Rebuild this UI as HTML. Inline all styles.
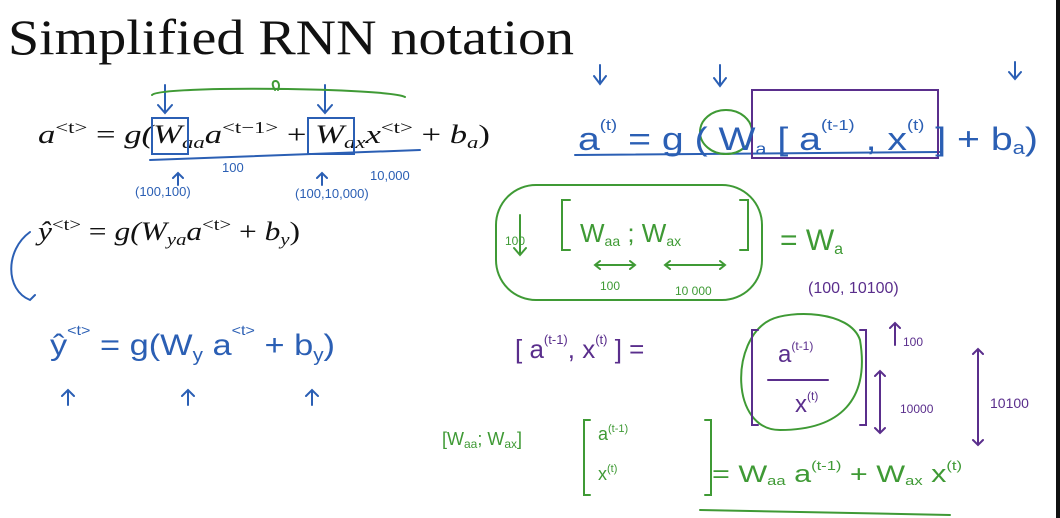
<!DOCTYPE html>
<html><head><meta charset="utf-8"><style>
html,body{margin:0;padding:0;background:#fff;}
svg{display:block}
.t{font-family:"Liberation Serif",serif;}
.h{font-family:"Liberation Sans",sans-serif;}
</style></head><body>
<svg width="1060" height="518" viewBox="0 0 1060 518" xmlns="http://www.w3.org/2000/svg">
<rect x="1056" y="0" width="4" height="518" fill="#111"/>
<text x="8" y="54" class="t" font-size="50" fill="#111" textLength="566" lengthAdjust="spacingAndGlyphs">Simplified RNN notation</text>
<text x="38" y="143" class="t" font-size="26" fill="#111" font-style="italic" textLength="452" lengthAdjust="spacingAndGlyphs">a<tspan font-style="normal" font-size="17" dy="-10">&lt;t&gt;</tspan><tspan dy="10" font-style="normal"> = </tspan>g(W<tspan font-size="17" dy="5">aa</tspan><tspan dy="-5">a</tspan><tspan font-style="normal" font-size="17" dy="-10">&lt;t−1&gt;</tspan><tspan dy="10" font-style="normal"> + </tspan>W<tspan font-size="17" dy="5">ax</tspan><tspan dy="-5">x</tspan><tspan font-style="normal" font-size="17" dy="-10">&lt;t&gt;</tspan><tspan dy="10" font-style="normal"> + </tspan>b<tspan font-size="17" dy="5">a</tspan><tspan dy="-5" font-style="normal">)</tspan></text>
<text x="38" y="240" class="t" font-size="26" fill="#111" font-style="italic" textLength="262" lengthAdjust="spacingAndGlyphs">ŷ<tspan font-style="normal" font-size="17" dy="-10">&lt;t&gt;</tspan><tspan dy="10" font-style="normal"> = </tspan>g(W<tspan font-size="17" dy="5">ya</tspan><tspan dy="-5">a</tspan><tspan font-style="normal" font-size="17" dy="-10">&lt;t&gt;</tspan><tspan dy="10" font-style="normal"> + </tspan>b<tspan font-size="17" dy="5">y</tspan><tspan dy="-5" font-style="normal">)</tspan></text>
<g fill="none" stroke-width="2" stroke-linecap="round">
<g stroke="#2b5fb4">
<rect x="152" y="118" width="36" height="36"/>
<rect x="308" y="118" width="46" height="36"/>
<path d="M165 85 v28 M158 105 l7 8 l7-8 M325 85 v28 M318 105 l7 8 l7-8"/>
<path d="M150 160 L420 150"/>
<path d="M178 185 v-12 M173 178 l5-5 l5 5 M322 185 v-12 M317 178 l5-5 l5 5"/>
<path d="M30 232 C5 250 5 290 30 300 l5 -5"/>
<path d="M68 405 v-15 M62 396 l6-6 l6 6 M188 405 v-15 M182 396 l6-6 l6 6 M312 405 v-15 M306 396 l6-6 l6 6"/>
<path d="M600 65 v18 M594 76 l6 8 l6-8 M720 65 v20 M714 78 l6 8 l6-8 M1015 62 v16 M1009 72 l6 7 l6-7"/>
<path d="M575 155 L940 152"/>
</g>
<g stroke="#3f9a35">
<path d="M152 95 C160 85 390 88 405 97 M275 90 c-8-12 8-12 3 0"/>
<ellipse cx="726" cy="132" rx="26" ry="22"/>
<rect x="496" y="185" width="266" height="115" rx="40"/>
<path d="M770 320 C730 340 730 430 780 430 C840 430 870 400 860 340 C850 310 790 310 770 320"/>
<path d="M595 265 h40 M600 261 l-5 4 l5 4 M630 261 l5 4 l-5 4 M665 265 h60 M670 261 l-5 4 l5 4 M720 261 l5 4 l-5 4"/>
<path d="M570 200 h-8 v50 h8 M740 200 h8 v50 h-8"/>
<path d="M520 215 v40 M514 248 l6 7 l6-7"/>
<path d="M590 420 h-6 v75 h6 M705 420 h6 v75 h-6 M700 510 L950 515"/>
</g>
<g stroke="#5a2e8c">
<rect x="752" y="90" width="186" height="68"/>
<path d="M758 330 h-6 v95 h6 M860 330 h6 v95 h-6 M768 380 h60"/>
<path d="M895 335 v-12 M890 328 l5-5 l5 5 M895 345 v-12"/>
<path d="M880 372 v60 M875 376 l5-5 l5 5 M875 428 l5 5 l5-5"/>
<path d="M978 350 v95 M973 354 l5-5 l5 5 M973 440 l5 5 l5-5"/>
</g>
</g>
<g class="h">
<text x="222" y="172" font-size="13" fill="#2b5fb4">100</text>
<text x="370" y="180" font-size="13" fill="#2b5fb4">10,000</text>
<text x="135" y="196" font-size="13" fill="#2b5fb4">(100,100)</text>
<text x="295" y="198" font-size="13" fill="#2b5fb4">(100,10,000)</text>
<text x="50" y="355" font-size="30" fill="#2b5fb4" textLength="285" lengthAdjust="spacingAndGlyphs">ŷ<tspan font-size="14" dy="-20">&lt;t&gt;</tspan><tspan dy="20"> = g(W</tspan><tspan font-size="18" dy="6">y</tspan><tspan dy="-6"> a</tspan><tspan font-size="14" dy="-20">&lt;t&gt;</tspan><tspan dy="20"> + b</tspan><tspan font-size="18" dy="6">y</tspan><tspan dy="-6">)</tspan></text>
<text x="578" y="150" font-size="32" fill="#2b5fb4" textLength="460" lengthAdjust="spacingAndGlyphs">a<tspan font-size="15" dy="-20">(t)</tspan><tspan dy="20"> = g ( W</tspan><tspan font-size="16" dy="4">a</tspan><tspan dy="-4"> [ a</tspan><tspan font-size="15" dy="-20">(t-1)</tspan><tspan dy="20"> , x</tspan><tspan font-size="15" dy="-20">(t)</tspan><tspan dy="20"> ] + b</tspan><tspan font-size="18" dy="4">a</tspan><tspan dy="-4">)</tspan></text>
<text x="505" y="245" font-size="12" fill="#3f9a35">100</text>
<text x="580" y="242" font-size="26" fill="#3f9a35">W<tspan font-size="14" dy="4">aa</tspan><tspan dy="-4"> ; W</tspan><tspan font-size="14" dy="4">ax</tspan></text>
<text x="600" y="290" font-size="12" fill="#3f9a35">100</text>
<text x="675" y="295" font-size="12" fill="#3f9a35">10 000</text>
<text x="780" y="250" font-size="30" fill="#3f9a35">= W<tspan font-size="16" dy="4">a</tspan></text>
<text x="808" y="293" font-size="16" fill="#5a2e8c">(100, 10100)</text>
<text x="515" y="358" font-size="26" fill="#5a2e8c">[ a<tspan font-size="13" dy="-14">(t-1)</tspan><tspan dy="14">, x</tspan><tspan font-size="13" dy="-14">(t)</tspan><tspan dy="14"> ] =</tspan></text>
<text x="778" y="362" font-size="24" fill="#5a2e8c">a<tspan font-size="12" dy="-12">(t-1)</tspan></text>
<text x="795" y="412" font-size="24" fill="#5a2e8c">x<tspan font-size="12" dy="-12">(t)</tspan></text>
<text x="903" y="346" font-size="12" fill="#5a2e8c">100</text>
<text x="900" y="413" font-size="12" fill="#5a2e8c">10000</text>
<text x="990" y="408" font-size="14" fill="#5a2e8c">10100</text>
<text x="442" y="445" font-size="18" fill="#3f9a35">[W<tspan font-size="12" dy="3">aa</tspan><tspan dy="-3">; W</tspan><tspan font-size="12" dy="3">ax</tspan><tspan dy="-3">]</tspan></text>
<text x="598" y="440" font-size="18" fill="#3f9a35">a<tspan font-size="11" dy="-8">(t-1)</tspan></text>
<text x="598" y="480" font-size="18" fill="#3f9a35">x<tspan font-size="11" dy="-8">(t)</tspan></text>
<text x="712" y="482" font-size="24" fill="#3f9a35" textLength="250" lengthAdjust="spacingAndGlyphs">= W<tspan font-size="13" dy="3">aa</tspan><tspan dy="-3"> a</tspan><tspan font-size="13" dy="-12">(t-1)</tspan><tspan dy="12"> + W</tspan><tspan font-size="13" dy="3">ax</tspan><tspan dy="-3"> x</tspan><tspan font-size="13" dy="-12">(t)</tspan></text>
</g>
</svg>
</body></html>
